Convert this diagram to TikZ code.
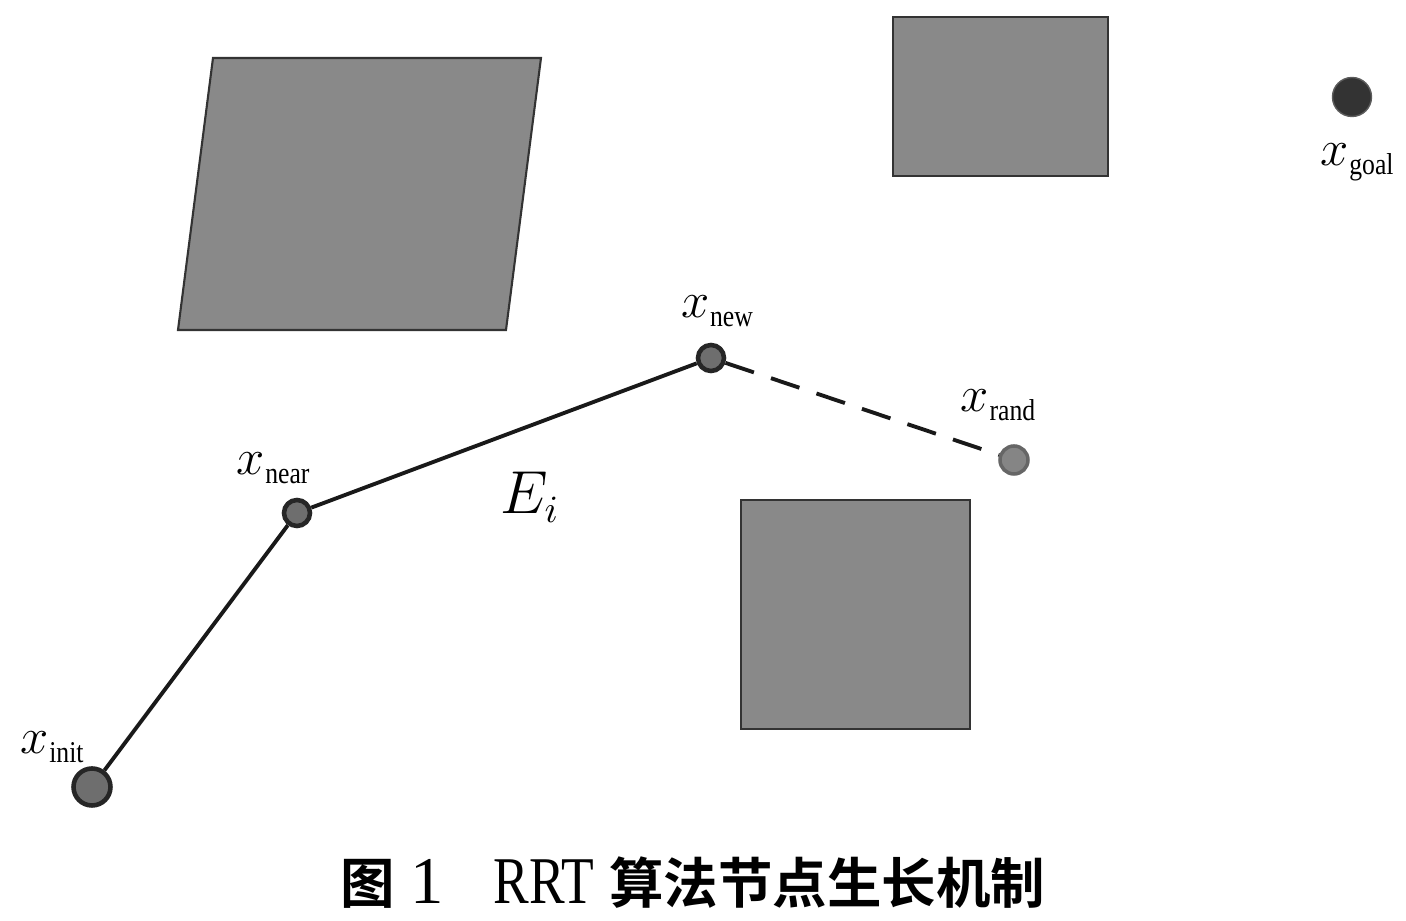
\documentclass[tikz,border=0pt]{standalone}
\usepackage{fontspec}
\newfontfamily\cjk{Noto Sans CJK SC}[BoldFont={* Bold}]
\newfontfamily\tms{Liberation Serif}
\usetikzlibrary{positioning,calc}
\definecolor{obst}{HTML}{898989}
\definecolor{vert}{HTML}{6E6E6E}
\definecolor{randc}{HTML}{858585}
\definecolor{goalc}{HTML}{333333}
\newcommand{\xsub}[1]{$x$\kern.2pt\raisebox{-.4ex}{\scalebox{.85}[1]{\tms\fontsize{8.6}{9}\selectfont #1}}}

\begin{document}
\begin{tikzpicture}[x=0.1mm,y=-0.1mm,
 obstacle/.style={draw=black!80,line width=.6pt,fill=obst},
 vertex/.style={circle,draw=black!85,line width=1.3pt,fill=vert,inner sep=0pt,minimum size=2.6mm},
 bigvertex/.style={vertex,minimum size=3.7mm},
 lbl/.style={font=\fontsize{14.5}{16}\selectfont,inner sep=0pt},
 edge/.style={line width=1.1pt,black!90}]
\useasboundingbox (0,0) rectangle (1406,921);

% obstacles
\draw[obstacle] (213,58) -- (541,58) -- (506,330) -- (178,330) -- cycle;
\draw[obstacle] (893,17) rectangle (1108,176);
\draw[obstacle] (741,500) rectangle (970,729);

% tree
\node[bigvertex] (init) at (92,787) {};
\node[vertex] (near) at (297,513) {};
\node[vertex] (new) at (711,358) {};
\node[circle,draw=black!60,line width=1pt,fill=randc,inner sep=0pt,minimum size=2.8mm] (rand) at (1014,460) {};
\node[circle,fill=goalc,draw=goalc!80,inner sep=0pt,minimum size=3.9mm] (goal) at (1352,97) {};

\draw[edge] (init) -- (near);
\draw[edge] (near) -- (new);
\draw[edge,dash pattern=on 3mm off 1.8mm] (new) -- (rand);

\node[lbl] (linit) at (52,747) {\xsub{init}};
\node[lbl] (lnear) at (273,468) {\xsub{near}};
\node[lbl] (lnew) at (717,311) {\xsub{new}};
\node[lbl] (lrand) at (998,405) {\xsub{rand}};
\node[lbl] (lgoal) at (1357,162) {\xsub{goal}};
\node[font=\fontsize{16}{18}\selectfont,inner sep=0pt] (edgelbl) at (530,497) {$E_i$};

% caption
\node[font=\fontsize{15.5}{18}\selectfont\cjk\bfseries,inner sep=0pt] (caption) at (693,883) {图\hspace{1.5mm}{\tms\mdseries\fontsize{19}{20}\selectfont 1}\hspace{5mm}\scalebox{.8}[1]{\tms\mdseries\fontsize{19}{20}\selectfont RRT}\hspace{1.5mm}算法节点生长机制};
\end{tikzpicture}
\end{document}
